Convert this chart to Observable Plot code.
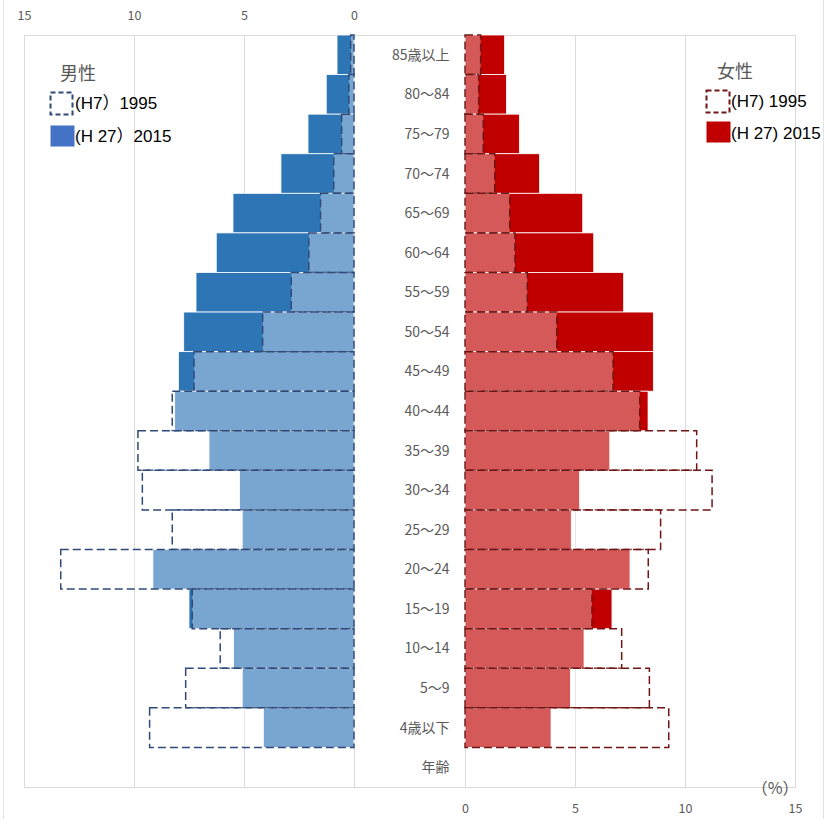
<!DOCTYPE html>
<html>
<head>
<meta charset="utf-8">
<script src="https://cdn.jsdelivr.net/npm/d3@7"></script>
<script src="https://cdn.jsdelivr.net/npm/@observablehq/plot@0.6"></script>
<style>
  html, body { margin: 0; padding: 0; background: #fff; }
  #wrap { position: relative; width: 828px; height: 819px; overflow: hidden; font-family: "Noto Sans CJK JP", "Noto Sans", sans-serif; }
  #chart { position: absolute; left: 0; top: 0; }
  .lg { position: absolute; line-height: 1; white-space: nowrap; }
  .title { color: #595959; }
  .item { color: #000; font-family: "Liberation Sans", "Noto Sans CJK JP", sans-serif; }
  .edge { position: absolute; top: 0; height: 819px; width: 0; border-left: 1px solid #e3e3e3; }
</style>
</head>
<body>
<div id="wrap">
  <div id="chart"></div>
</div>
<script>
// ---- data (percent of population) ----
const ages = ["85歳以上","80～84","75～79","70～74","65～69","60～64","55～59","50～54","45～49",
              "40～44","35～39","30～34","25～29","20～24","15～19","10～14","5～9","4歳以下"];
const ageTitle = "年齢";
const male1995   = [0.15,0.23,0.56,0.92,1.52,2.05,2.85,4.15,7.27,8.26,9.82,9.62,8.26,13.33,7.35,6.08,7.65,9.29];
const male2015   = [0.77,1.26,2.09,3.32,5.50,6.26,7.18,7.74,7.98,8.15,6.59,5.20,5.08,9.14,7.50,5.48,5.08,4.12];
const female1995 = [0.71,0.62,0.83,1.35,2.03,2.27,2.83,4.17,6.73,7.94,10.53,11.23,8.89,8.33,5.77,7.12,8.38,9.26];
const female2015 = [1.80,1.88,2.47,3.39,5.35,5.85,7.21,8.56,8.56,8.32,6.58,5.21,4.83,7.50,6.68,5.41,4.79,3.91];
const axisTicks = [0, 5, 10, 15];
const maxVal = 15;

// ---- layout helpers ----
const GAP = 5.05;  // width (in % units) of the centre label column
const rows = ages.map((a, i) => ({age: a, m95: male1995[i], m15: male2015[i], f95: female1995[i], f15: female2015[i]}));

const blue = "#2E75B6", blueDash = "#2F4A78";
const red = "#C00000", redDash = "#701414";
const grid = "#D9D9D9";

const chart = Plot.plot({
  width: 828,
  height: 819,
  marginLeft: 24,
  marginRight: 33,
  marginTop: 35,
  marginBottom: 32,
  style: {fontFamily: "'Noto Sans CJK JP', 'Noto Sans', sans-serif", background: "white"},
  x: {domain: [-maxVal, maxVal + GAP], axis: null},
  y: {type: "band", domain: [...ages, ageTitle], padding: 0, round: false, axis: null},
  marks: [
    Plot.ruleX(axisTicks.map(t => -t), {stroke: grid, strokeWidth: 1}),
    Plot.ruleX(axisTicks.map(t => GAP + t), {stroke: grid, strokeWidth: 1}),
    Plot.frame({stroke: grid, strokeWidth: 1}),
    // male 2015
    Plot.barX(rows, {y: "age", x1: 0, x2: d => -d.m15, fill: blue, stroke: "white", strokeWidth: 0.8}),
    // male 1995
    Plot.barX(rows, {y: "age", x1: 0, x2: d => -d.m95, fill: "white", fillOpacity: 0.36,
      stroke: blueDash, strokeWidth: 1.5, strokeDasharray: "8,4"}),
    // female 2015
    Plot.barX(rows, {y: "age", x1: GAP, x2: d => GAP + d.f15, fill: red, stroke: "white", strokeWidth: 0.8}),
    // female 1995
    Plot.barX(rows, {y: "age", x1: GAP, x2: d => GAP + d.f95, fill: "white", fillOpacity: 0.35,
      stroke: redDash, strokeWidth: 1.5, strokeDasharray: "8,4"}),
    // centre labels
    Plot.text([...ages, ageTitle], {y: d => d, x: GAP, dx: -16, textAnchor: "end", fill: "#595959", fontSize: 14}),
    // axes
    Plot.axisX(axisTicks.map(t => -t), {anchor: "top", tickSize: 0, tickPadding: 16, tickFormat: d => Math.abs(d),
      fontSize: 12.5, color: "#595959"}),
    Plot.axisX(axisTicks.map(t => GAP + t), {anchor: "bottom", tickSize: 0, tickPadding: 17,
      tickFormat: d => Math.round(d - GAP), fontSize: 12.5, color: "#595959"}),
    Plot.text(["（%）"], {frameAnchor: "bottom-right", dx: 3, dy: 1, lineAnchor: "middle",
      fill: "#595959", fontSize: 16, textAnchor: "end"})
  ]
});
document.getElementById("chart").appendChild(chart);

// ---- legends (HTML overlay) ----
const wrap = document.getElementById("wrap");
function addText(txt, cls, left, centerY, size) {
  const d = document.createElement("div");
  d.className = "lg " + cls;
  d.textContent = txt;
  d.style.left = left + "px";
  d.style.top = (centerY - size / 2) + "px";
  d.style.fontSize = size + "px";
  wrap.appendChild(d);
}
function addBox(left, top, w, h, fill, stroke, dashed) {
  const ns = "http://www.w3.org/2000/svg";
  const s = document.createElementNS(ns, "svg");
  s.setAttribute("width", w + 2); s.setAttribute("height", h + 2);
  s.style.position = "absolute"; s.style.left = (left - 1) + "px"; s.style.top = (top - 1) + "px";
  const r = document.createElementNS(ns, "rect");
  r.setAttribute("x", 1.5); r.setAttribute("y", 1.5);
  r.setAttribute("width", w - 1); r.setAttribute("height", h - 1);
  r.setAttribute("fill", fill);
  if (stroke) { r.setAttribute("stroke", stroke); r.setAttribute("stroke-width", 2); }
  if (dashed) r.setAttribute("stroke-dasharray", "5,3");
  s.appendChild(r);
  wrap.appendChild(s);
}
addText("男性", "title", 60, 72, 18);
addBox(50, 92, 23, 23, "white", blueDash, true);
addText("(H7）1995", "item", 75, 103, 17);
addBox(50, 125, 25, 22, "#4472C4", null, false);
addText("(H 27）2015", "item", 75, 136, 17);

addText("女性", "title", 717, 70, 18);
addBox(706, 90, 24, 23, "white", redDash, true);
addText("(H7) 1995", "item", 731, 101, 17);
addBox(706, 121, 25, 22, red, null, false);
addText("(H 27) 2015", "item", 731, 133, 17);

[3, 823].forEach(x => {
  const e = document.createElement("div");
  e.className = "edge"; e.style.left = x + "px";
  wrap.appendChild(e);
});
</script>
</body>
</html>
